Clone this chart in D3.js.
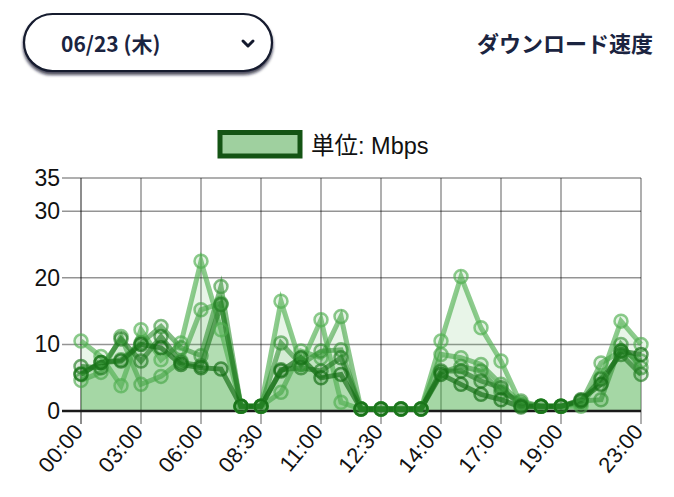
<!DOCTYPE html>
<html>
<head>
<meta charset="utf-8">
<script src="https://cdn.jsdelivr.net/npm/d3@7"></script>
<style>
html,body{margin:0;padding:0;background:#fff;}
svg{display:block;}
.lat{font-family:"Liberation Sans", Arial, Helvetica, sans-serif;}
.jp{font-family:"Liberation Sans", "Noto Sans CJK JP", sans-serif;}
</style>
</head>
<body>
<svg id="chart" width="674" height="497"></svg>
<script>
const categories = ["00:00","01:00","02:00","03:00","04:00","05:00","06:00","07:00","08:00","08:30","09:00","10:00","11:00","11:30","12:00","12:30","13:00","13:30","14:00","15:00","16:00","17:00","17:30","18:00","19:00","20:00","21:00","22:00","23:00"];
const shownTicks = ["00:00","03:00","06:00","08:30","11:00","12:30","14:00","17:00","19:00","23:00"];
const yTicks = [0,10,20,30,35];
const series1 = [10.5,8.2,3.8,12.2,7.7,10.2,22.5,12.2,0.7,0.7,16.5,7.0,13.7,1.3,0.3,0.3,0.3,0.3,10.5,20.2,12.5,7.5,1.0,0.7,0.7,0.7,5.0,13.5,10.0];
const series2 = [4.6,5.8,11.2,4.0,5.2,7.5,15.2,16.2,0.7,0.7,2.8,9.0,8.0,14.2,0.3,0.3,0.3,0.3,8.5,8.0,7.0,4.0,1.2,0.7,0.7,1.2,7.2,9.0,7.5];
const series3 = [5.6,7.3,7.7,10.2,12.7,9.5,8.3,18.7,0.7,0.7,10.2,7.0,9.0,9.2,0.3,0.3,0.3,0.3,5.8,6.7,6.0,2.8,1.5,0.7,0.7,1.5,1.7,10.0,6.5];
const series4 = [6.7,6.5,10.8,7.5,11.2,7.3,6.8,16.0,0.7,0.7,6.2,6.5,6.0,8.0,0.3,0.3,0.3,0.3,6.0,6.0,4.5,3.5,0.8,0.7,0.7,1.5,4.8,8.5,5.5];
const series5 = [5.5,7.3,7.5,10.0,9.5,7.0,6.5,6.3,0.7,0.7,6.0,8.0,5.0,5.5,0.3,0.3,0.3,0.3,5.5,4.0,2.5,1.7,0.6,0.7,0.7,1.7,4.0,9.0,8.5];
const legendLabel = "単位: Mbps";
const titleText = "ダウンロード速度";
const dateText = "06/23 (木)";

const seriesList = [
  {values: series1, rgb: "80,175,80", la: 0.65},
  {values: series2, rgb: "70,165,70", la: 0.62},
  {values: series3, rgb: "50,145,50", la: 0.6},
  {values: series4, rgb: "35,125,35", la: 0.65},
  {values: series5, rgb: "20,110,20", la: 0.68}
];

const svg = d3.select("#chart");
const jfont = "'Noto Sans CJK JP', sans-serif";

const defs = svg.append("defs");
const f = defs.append("filter").attr("id","sh").attr("x","-10%").attr("y","-20%").attr("width","120%").attr("height","160%");
f.append("feDropShadow").attr("dx",0).attr("dy",3).attr("stdDeviation",1.8).attr("flood-color","#0b1228").attr("flood-opacity",0.75);

// dropdown pill
svg.append("rect").attr("x",24).attr("y",14).attr("width",248).attr("height",57).attr("rx",28.5)
  .attr("fill","#fff").attr("stroke","#141a2e").attr("stroke-width",2.2).attr("filter","url(#sh)");
svg.append("text").attr("x",61).attr("y",52).style("font-family",jfont).attr("font-weight","bold")
  .attr("font-size",21).attr("fill","#1b2440").text(dateText);
svg.append("path").attr("d","M243,41 L248,46 L253,41").attr("fill","none").attr("stroke","#141a2e")
  .attr("stroke-width",3).attr("stroke-linecap","round").attr("stroke-linejoin","round");

// title
svg.append("text").attr("x",653).attr("y",52).attr("text-anchor","end").style("font-family",jfont)
  .attr("font-weight","bold").attr("font-size",22).attr("fill","#1b2440").text(titleText);

// legend
svg.append("rect").attr("x",220).attr("y",132.5).attr("width",80).attr("height",23.5)
  .attr("fill","#9fd09f").attr("stroke","#145414").attr("stroke-width",5);
svg.append("text").attr("class","jp").attr("x",311).attr("y",154).attr("font-size",23.5)
  .attr("fill","#111").text(legendLabel);

// scales
const x = d3.scalePoint().domain(categories).range([81,641]);
const y = d3.scaleLinear().domain([0,35]).range([411,178]);

// grid
const grid = svg.append("g");
grid.selectAll("line.h").data(yTicks.filter(d=>d!==0)).enter().append("line")
  .attr("x1",62).attr("x2",641).attr("y1",d=>y(d)).attr("y2",d=>y(d))
  .attr("stroke","rgba(0,0,0,0.42)").attr("stroke-width",1.5);
grid.selectAll("line.v").data(shownTicks).enter().append("line")
  .attr("x1",d=>x(d)).attr("x2",d=>x(d)).attr("y1",y(35)).attr("y2",424)
  .attr("stroke",d=>d==="00:00"?"rgba(0,0,0,0.6)":"rgba(0,0,0,0.42)").attr("stroke-width",1.5);

// areas
const area = d3.area().x((d,i)=>x(categories[i])).y0(y(0)).y1(d=>y(d));
const line = d3.line().x((d,i)=>x(categories[i])).y(d=>y(d));
seriesList.forEach(s=>{
  svg.append("path").datum(s.values).attr("d",area).attr("fill","rgba(76,175,80,0.13)");
});
svg.append("line").attr("x1",62).attr("x2",641).attr("y1",y(0)).attr("y2",y(0))
  .attr("stroke","#1a1a1a").attr("stroke-width",2.5);

seriesList.forEach(s=>{
  svg.append("path").datum(s.values).attr("d",line).attr("fill","none")
    .attr("stroke",`rgba(${s.rgb},${s.la})`).attr("stroke-width",5).attr("stroke-linejoin","miter").attr("stroke-miterlimit",10);
});
seriesList.forEach(s=>{
  svg.append("g").selectAll("circle").data(s.values).enter().append("circle")
    .attr("cx",(d,i)=>x(categories[i])).attr("cy",d=>y(d)).attr("r",6.5)
    .attr("fill",`rgba(${s.rgb},0.15)`).attr("stroke",`rgba(${s.rgb},${s.la})`).attr("stroke-width",2.5);
});

// y labels
svg.append("g").selectAll("text").data(yTicks).enter().append("text").attr("class","lat")
  .attr("x",60).attr("y",d=>y(d)+8).attr("text-anchor","end")
  .attr("font-size",23).attr("fill","#111").text(d=>d);

// x labels
svg.append("g").selectAll("text").data(shownTicks).enter().append("text").attr("class","lat")
  .attr("transform",d=>`translate(${x(d)+3},${432}) rotate(-50)`)
  .attr("text-anchor","end").attr("font-size",22).attr("fill","#111").text(d=>d);
</script>
</body>
</html>
